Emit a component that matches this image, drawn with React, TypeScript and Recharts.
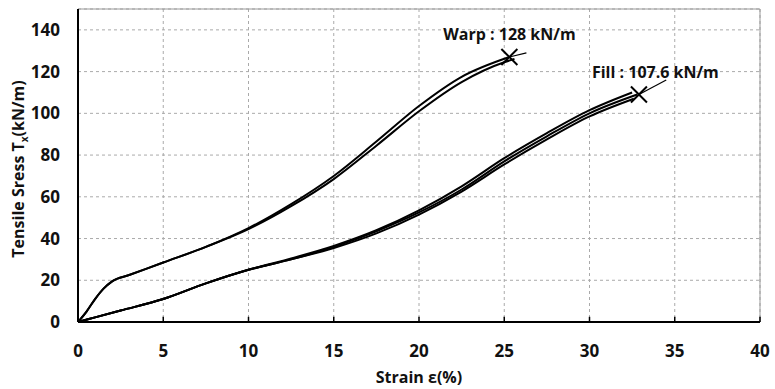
import React from 'react';
import { ComposedChart, Line, Scatter, XAxis, YAxis, CartesianGrid, ReferenceLine } from 'recharts';

// Strain (%) ticks and tensile stress ticks
const xTicks = [0, 5, 10, 15, 20, 25, 30, 35, 40];
const yTicks = [0, 20, 40, 60, 80, 100, 120, 140];

// Warp specimens (strain %, stress kN/m)
const warpA = [
  { x: 0, y: 0 }, { x: 0.5, y: 5 }, { x: 1, y: 11 }, { x: 1.5, y: 16 }, { x: 2, y: 19.5 },
  { x: 3, y: 22.5 }, { x: 5, y: 28.5 }, { x: 7.5, y: 36 }, { x: 10, y: 45 }, { x: 12.5, y: 56.5 },
  { x: 15, y: 70 }, { x: 17.5, y: 86.5 }, { x: 20, y: 103.5 }, { x: 22.5, y: 117.5 }, { x: 25.3, y: 127 },
];
const warpB = [
  { x: 0, y: 0 }, { x: 0.5, y: 5 }, { x: 1, y: 11 }, { x: 1.5, y: 16 }, { x: 2, y: 19.5 },
  { x: 3, y: 22.5 }, { x: 5, y: 28.5 }, { x: 7.5, y: 36 }, { x: 10, y: 44.5 }, { x: 12.5, y: 55.5 },
  { x: 15, y: 68.5 }, { x: 17.5, y: 84.5 }, { x: 20, y: 101 }, { x: 22.5, y: 115 }, { x: 25, y: 124.5 },
  { x: 25.6, y: 126 },
];
const warpTail = [{ x: 25.3, y: 127 }, { x: 26.3, y: 129 }];

// Fill specimens
const fillA = [
  { x: 0, y: 0 }, { x: 1, y: 2.2 }, { x: 2.5, y: 5.5 }, { x: 5, y: 11 }, { x: 7.5, y: 18.5 },
  { x: 10, y: 25 }, { x: 12.5, y: 30.5 }, { x: 15, y: 36.5 }, { x: 17.5, y: 44 }, { x: 20, y: 53.5 },
  { x: 22.5, y: 65 }, { x: 25, y: 78.5 }, { x: 27.5, y: 90.5 }, { x: 30, y: 101.5 }, { x: 32.5, y: 110 },
];
const fillB = [
  { x: 0, y: 0 }, { x: 1, y: 2.2 }, { x: 2.5, y: 5.5 }, { x: 5, y: 11 }, { x: 7.5, y: 18.5 },
  { x: 10, y: 25 }, { x: 12.5, y: 30 }, { x: 15, y: 36 }, { x: 17.5, y: 43.5 }, { x: 20, y: 52.5 },
  { x: 22.5, y: 63.5 }, { x: 25, y: 77 }, { x: 27.5, y: 89 }, { x: 30, y: 100 }, { x: 32.8, y: 109 },
];
const fillC = [
  { x: 0, y: 0 }, { x: 1, y: 2.2 }, { x: 2.5, y: 5.5 }, { x: 5, y: 11 }, { x: 7.5, y: 18.5 },
  { x: 10, y: 25 }, { x: 12.5, y: 30 }, { x: 15, y: 35.5 }, { x: 17.5, y: 42.5 }, { x: 20, y: 51.5 },
  { x: 22.5, y: 62.5 }, { x: 25, y: 75.5 }, { x: 27.5, y: 87.5 }, { x: 30, y: 98.5 }, { x: 32.6, y: 107 },
];
const fillTail = [{ x: 32.9, y: 109 }, { x: 34.5, y: 116 }];

// Failure points with their annotations
const failures = [
  { x: 25.3, y: 127, label: 'Warp : 128 kN/m', dx: -66, dy: -17 },
  { x: 32.9, y: 109, label: 'Fill : 107.6 kN/m', dx: -47, dy: -17 },
];

const FONT = '"Open Sans", sans-serif';

const FailureMark = (props: any) => {
  const { cx, cy, payload } = props;
  if (cx == null || cy == null) return null;
  const s = 8;
  return (
    <g>
      <line x1={cx - s} y1={cy - s} x2={cx + s} y2={cy + s} stroke="#000" strokeWidth={2} />
      <line x1={cx - s} y1={cy + s} x2={cx + s} y2={cy - s} stroke="#000" strokeWidth={2} />
      <text x={cx + payload.dx} y={cy + payload.dy} fontFamily={FONT} fontWeight={700} fontSize={16} fill="#111">
        {payload.label}
      </text>
    </g>
  );
};

const YTitle = () => (
  <text x={24} y={169} transform="rotate(-90 24 169)" textAnchor="middle" fontFamily={FONT} fontWeight={700} fontSize={16} fill="#111">
    Tensile Sress T<tspan fontSize={10} dy={4}>x</tspan><tspan dy={-4}>(kN/m)</tspan>
  </text>
);

const XTitle = (props: any) => {
  const { viewBox } = props;
  const cx = viewBox ? viewBox.x + viewBox.width / 2 : 420;
  return (
    <text x={cx} y={383} textAnchor="middle" fontFamily={FONT} fontWeight={700} fontSize={16} fill="#111">
      Strain ε(%)
    </text>
  );
};

const tickStyle = { fontFamily: FONT, fontWeight: 700, fontSize: 17, fill: '#111' };

export default function App() {
  const series = [warpA, warpB, fillA, fillB, fillC];
  return (
    <div style={{ position: 'absolute', left: 0, top: 0, background: '#fff' }}>
      <ComposedChart width={775} height={389} margin={{ top: 9, right: 15, left: 18, bottom: 7 }}>
        <CartesianGrid stroke="#aaa" strokeDasharray="3 3" />
        <XAxis
          type="number"
          dataKey="x"
          domain={[0, 40]}
          ticks={xTicks}
          allowDataOverflow
          height={60}
          tickLine={false}
          tickMargin={17}
          axisLine={{ stroke: '#000', strokeWidth: 2 }}
          tick={tickStyle}
          label={<XTitle />}
        />
        <YAxis
          type="number"
          dataKey="y"
          domain={[0, 150]}
          ticks={yTicks}
          allowDataOverflow
          width={60}
          tickLine={false}
          tickMargin={12}
          axisLine={{ stroke: '#000', strokeWidth: 2 }}
          tick={tickStyle}
          label={<YTitle />}
        />
        <ReferenceLine y={150} stroke="#999" strokeWidth={1} />
        <ReferenceLine x={40} stroke="#999" strokeWidth={1} />
        {xTicks.map((t) => (
          <ReferenceLine key={'t' + t} segment={[{ x: t, y: 0 }, { x: t, y: 2.5 }]} stroke="#000" strokeWidth={1.5} />
        ))}
        {series.map((d, i) => (
          <Line
            key={i}
            data={d}
            dataKey="y"
            type="monotone"
            stroke="#000"
            strokeWidth={2}
            dot={false}
            activeDot={false}
            isAnimationActive={false}
          />
        ))}
        <Line data={warpTail} dataKey="y" type="linear" stroke="#000" strokeWidth={1.2} dot={false} isAnimationActive={false} />
        <Line data={fillTail} dataKey="y" type="linear" stroke="#000" strokeWidth={1.2} dot={false} isAnimationActive={false} />
        <Scatter data={failures} dataKey="y" shape={<FailureMark />} isAnimationActive={false} />
      </ComposedChart>
    </div>
  );
}
